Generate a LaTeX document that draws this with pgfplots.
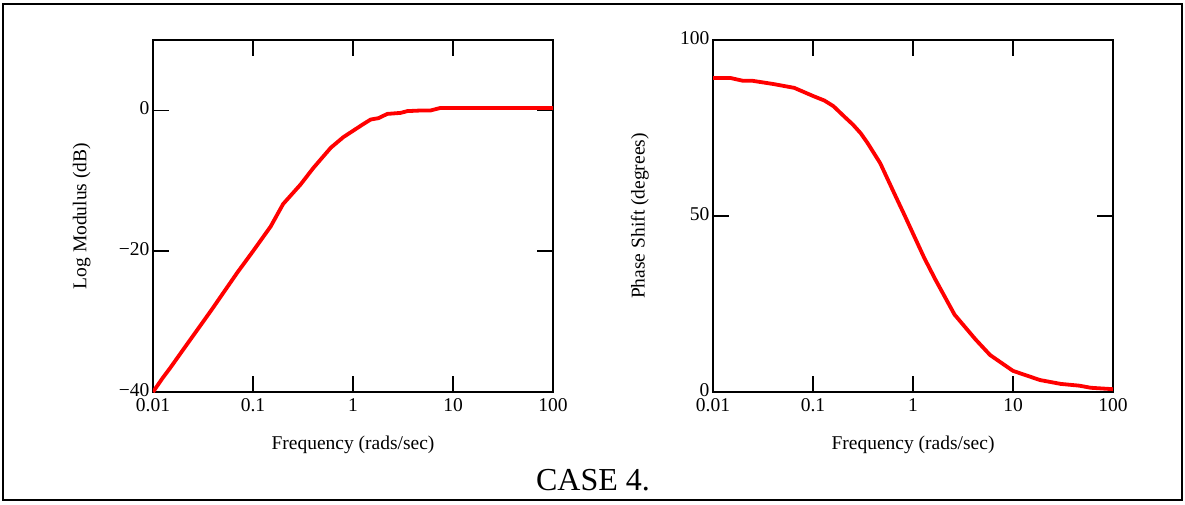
\documentclass[border=0pt]{standalone}
\usepackage{pgfplots}
\pgfplotsset{compat=1.18}
\usepackage{fontspec}
\setmainfont{Liberation Serif}

\pgfplotsset{
  bode/.style={
    scale only axis, width=400pt, height=352pt,
    xmin=0.01, xmax=100,
    xtick={0.01,0.1,1,10,100},
    xticklabels={0.01,0.1,1,10,100},
    xminorticks=false, yminorticks=false,
    tick align=inside, major tick length=16pt,
    axis line style={line width=1.4pt},
    major tick style={line width=1.6pt, black},
    tick label style={font=\fontsize{19.5}{22}\selectfont},
    xticklabel style={yshift=-3pt},
    label style={font=\fontsize{19.5}{22}\selectfont},
    xlabel={Frequency (rads/sec)},
    xlabel style={at={(axis description cs:0.5,-0.15)},anchor=center},
  }
}

\begin{document}
\begin{tikzpicture}
\useasboundingbox (0,0) rectangle (1185pt,504pt);
\draw[line width=1.8pt] (3pt,4pt) rectangle (1182pt,500pt);

% log modulus
\begin{semilogxaxis}[bode, at={(153pt,112pt)}, anchor=south west,
  ymin=-40, ymax=10, ytick={-40,-20,0}, yticklabels={−40,−20,0},
  yticklabel style={yshift=2pt},
  ylabel={Log Modulus (dB)},
  ylabel style={at={(axis description cs:-0.178,0.5)},anchor=center}]
\addplot[red, line width=3.8pt, mark=none] coordinates {
(0.01,-40) (0.0125,-38) (0.015,-36.5) (0.02,-34) (0.03,-30.5) (0.04,-28)
(0.05,-26) (0.07,-23) (0.1,-20) (0.15,-16.5) (0.2,-13.3) (0.3,-10.5)
(0.4,-8.2) (0.5,-6.6) (0.6,-5.3) (0.8,-3.8) (1,-2.9) (1.25,-2) (1.5,-1.3)
(1.8,-1.1) (2.2,-0.5) (3,-0.35) (3.5,-0.1) (5,0) (6,0) (7.5,0.35) (100,0.35)
};
\end{semilogxaxis}

% phase shift
\begin{semilogxaxis}[bode, at={(713pt,112pt)}, anchor=south west,
  ymin=0, ymax=100, ytick={0,50,100}, yticklabels={0,50,100},
  yticklabel style={yshift=2pt},
  ylabel={Phase Shift (degrees)},
  ylabel style={at={(axis description cs:-0.183,0.5)},anchor=center}]
\addplot[red, line width=3.8pt, mark=none] coordinates {
(0.01,89.2) (0.015,89.2) (0.02,88.4) (0.025,88.4) (0.04,87.5) (0.065,86.4)
(0.1,84.1) (0.13,82.8) (0.16,81.2) (0.21,78) (0.25,76) (0.3,73.5) (0.35,70.8)
(0.47,65) (0.66,56) (0.83,50) (1,45) (1.3,38) (1.67,32) (2.6,22) (4.2,15)
(5.9,10.5) (10,6) (18.6,3.4) (30,2.3) (46,1.8) (60,1.2) (100,0.8)
};
\end{semilogxaxis}

\node[font=\fontsize{32}{36}\selectfont] at (593pt,24pt) {CASE 4.};
\end{tikzpicture}
\end{document}
